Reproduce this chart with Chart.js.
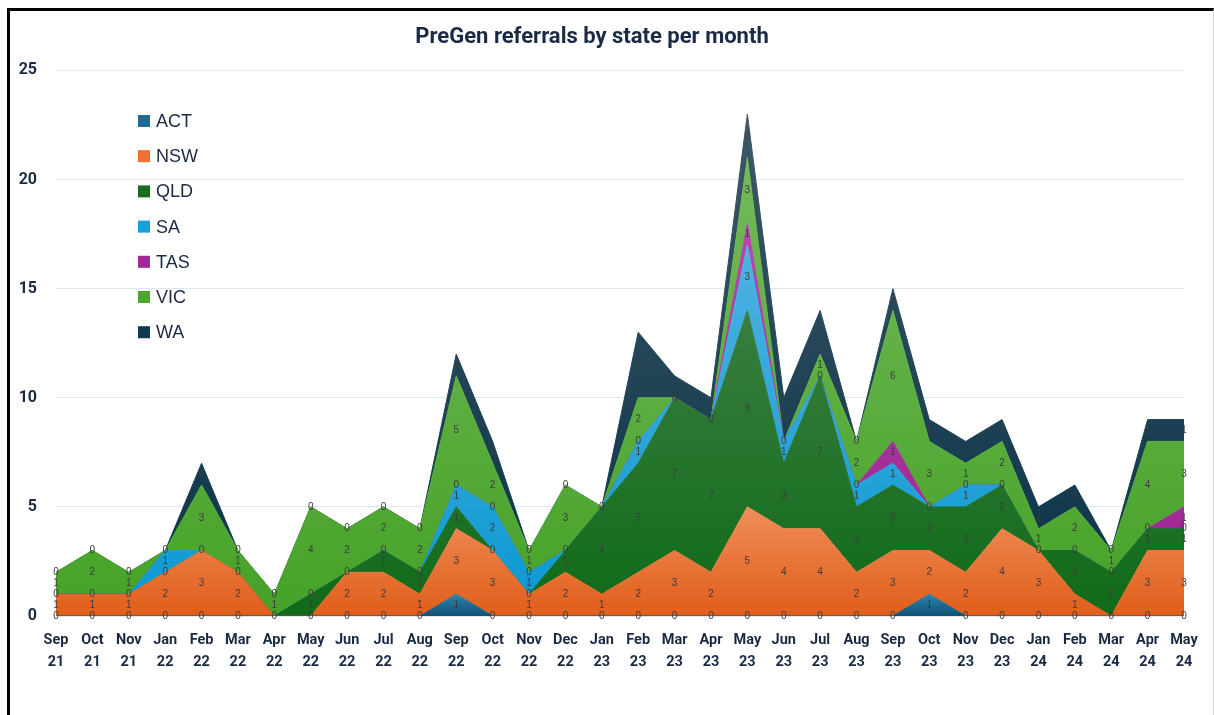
<!DOCTYPE html>
<html>
<head>
<meta charset="utf-8">
<title>PreGen referrals by state per month</title>
<script src="https://cdn.jsdelivr.net/npm/chart.js@4.4.1/dist/chart.umd.min.js"></script>
<style>
  html, body { margin: 0; padding: 0; background: #fff; }
  #wrap { position: relative; width: 1214px; height: 715px; overflow: hidden; }
  #frame {
    position: absolute; left: 7px; top: 8px; width: 1203px; height: 720px;
    border-top: 3px solid #000; border-left: 3px solid #000; border-right: 1px solid #cfd4dc;
  }
  #chart { position: absolute; left: 0; top: 0; }
</style>
</head>
<body>
<div id="wrap">
  <div id="frame"></div>
  <canvas id="chart" width="1214" height="715"></canvas>
</div>
<script>
// ===== DATA =====
const months = [
  ["Sep", "21"], ["Oct", "21"], ["Nov", "21"], ["Jan", "22"], ["Feb", "22"], ["Mar", "22"],
  ["Apr", "22"], ["May", "22"], ["Jun", "22"], ["Jul", "22"], ["Aug", "22"], ["Sep", "22"],
  ["Oct", "22"], ["Nov", "22"], ["Dec", "22"], ["Jan", "23"], ["Feb", "23"], ["Mar", "23"],
  ["Apr", "23"], ["May", "23"], ["Jun", "23"], ["Jul", "23"], ["Aug", "23"], ["Sep", "23"],
  ["Oct", "23"], ["Nov", "23"], ["Dec", "23"], ["Jan", "24"], ["Feb", "24"], ["Mar", "24"],
  ["Apr", "24"], ["May", "24"]
];

const act = [0,0,0,0,0,0,0,0,0,0,0,1,0,0,0,0,0,0,0,0,0,0,0,0,1,0,0,0,0,0,0,0];
const nsw = [1,1,1,2,3,2,0,0,2,2,1,3,3,1,2,1,2,3,2,5,4,4,2,3,2,2,4,3,1,0,3,3];
const qld = [0,0,0,0,0,0,0,1,0,1,1,1,0,0,1,4,5,7,7,9,3,7,3,3,2,3,2,0,2,2,1,1];
const sa  = [0,0,0,1,0,0,0,0,0,0,0,1,2,1,0,0,1,0,0,3,1,0,1,1,0,1,0,0,0,0,0,0];
const tas = [0,0,0,0,0,0,0,0,0,0,0,0,0,0,0,0,0,0,0,1,0,0,0,1,0,0,0,0,0,0,0,1];
const vic = [1,2,1,0,3,1,1,4,2,2,2,5,2,1,3,0,2,0,0,3,0,1,2,6,3,1,2,1,2,1,4,3];
const wa  = [0,0,0,0,1,0,0,0,0,0,0,1,1,0,0,0,3,1,1,2,2,2,0,1,1,1,1,1,1,0,1,1];

const yTicks = [0, 5, 10, 15, 20, 25];

const seriesNames = ["ACT", "NSW", "QLD", "SA", "TAS", "VIC", "WA"];
const seriesData = [act, nsw, qld, sa, tas, vic, wa];

// ===== STYLE =====
const legendColors = ["#1f6a92", "#ef7030", "#1a6e22", "#18a0dc", "#a02898", "#4ca82c", "#0e3a50"];
const topColors    = ["#2f82ad", "#f08d58", "#3a7e40", "#4fb2e2", "#b548ad", "#74ba5a", "#3e5868"];
const bottomColors = ["#0e5276", "#e05e1a", "#0f6a18", "#0a98d2", "#9a2090", "#45a227", "#0a3348"];
const TEXT = "#1b2a44";

// vertical gradient spanning the band's own height (like the Office fill)
function bandFill(i) {
  return function (context) {
    const chart = context.chart;
    if (!chart.chartArea) return legendColors[i];
    const y = chart.scales.y;
    let hi = 0, lo = Infinity;
    for (let j = 0; j < months.length; j++) {
      let below = 0;
      for (let k = 0; k < i; k++) below += seriesData[k][j];
      hi = Math.max(hi, below + seriesData[i][j]);
      lo = Math.min(lo, below);
    }
    const g = chart.ctx.createLinearGradient(0, y.getPixelForValue(hi), 0, y.getPixelForValue(lo));
    g.addColorStop(0, topColors[i]);
    g.addColorStop(1, bottomColors[i]);
    return g;
  };
}

// ===== PLUGINS =====
const valueLabels = {
  id: "valueLabels",
  afterDatasetsDraw(chart) {
    const { ctx, scales: { x, y } } = chart;
    const done = new Set(); // zeros of stacked series land on the same spot
    ctx.save();
    ctx.font = '10px "Liberation Sans", Arial, sans-serif';
    ctx.fillStyle = "#3c3c3c";
    ctx.textAlign = "center";
    ctx.textBaseline = "middle";
    chart.data.datasets.forEach((ds, i) => {
      ds.data.forEach((v, j) => {
        let below = 0;
        for (let k = 0; k < i; k++) below += chart.data.datasets[k].data[j];
        const key = j + ":" + (below + v / 2) + ":" + v;
        if (done.has(key)) return;
        done.add(key);
        ctx.fillText(String(v), x.getPixelForValue(j), y.getPixelForValue(below + v / 2));
      });
    });
    ctx.restore();
  }
};

const insetLegend = {
  id: "insetLegend",
  afterDraw(chart) {
    const ctx = chart.ctx;
    ctx.save();
    ctx.font = '18px "Liberation Sans", Arial, sans-serif';
    ctx.textBaseline = "middle";
    ctx.textAlign = "left";
    chart.data.datasets.forEach((ds, i) => {
      const cy = 121 + i * 35.2;
      ctx.fillStyle = legendColors[i];
      ctx.fillRect(138, cy - 6, 12, 12);
      ctx.fillStyle = TEXT;
      ctx.fillText(ds.label, 156, cy + 1);
    });
    ctx.restore();
  }
};

// ===== CHART =====
const ctx = document.getElementById("chart").getContext("2d");

new Chart(ctx, {
  type: "line",
  data: {
    labels: months,
    datasets: seriesNames.map((name, i) => ({
      label: name,
      data: seriesData[i],
      fill: i === 0 ? "origin" : "-1",
      backgroundColor: bandFill(i),
      borderColor: bandFill(i),
      borderWidth: 1,
      pointRadius: 0,
      tension: 0
    }))
  },
  options: {
    responsive: false,
    animation: false,
    layout: { padding: { top: 0, right: 30, bottom: 0, left: 0 } },
    plugins: {
      legend: { display: false },
      tooltip: { enabled: false },
      title: {
        display: true,
        text: "PreGen referrals by state per month",
        color: TEXT,
        font: { family: "Roboto, 'Liberation Sans', sans-serif", size: 22, weight: "bold" },
        padding: { top: 24, bottom: 20 }
      }
    },
    scales: {
      x: {
        offset: false,
        grid: { display: false },
        border: { display: false },
        ticks: {
          color: TEXT,
          autoSkip: false,
          maxRotation: 0,
          padding: 5,
          font: { family: "Roboto, 'Liberation Sans', sans-serif", size: 14.5, weight: "bold", lineHeight: 1.55 }
        },
        afterFit(s) { s.height = 99; }
      },
      y: {
        stacked: true,
        min: yTicks[0],
        max: yTicks[yTicks.length - 1],
        grid: { color: "#dbe6f4", lineWidth: 1, drawTicks: false },
        border: { display: false },
        ticks: {
          stepSize: yTicks[1] - yTicks[0],
          color: TEXT,
          padding: 19,
          font: { family: "Roboto, 'Liberation Sans', sans-serif", size: 16, weight: "bold" }
        },
        afterFit(s) { s.width = 56; }
      }
    }
  },
  plugins: [valueLabels, insetLegend]
});
</script>
</body>
</html>
